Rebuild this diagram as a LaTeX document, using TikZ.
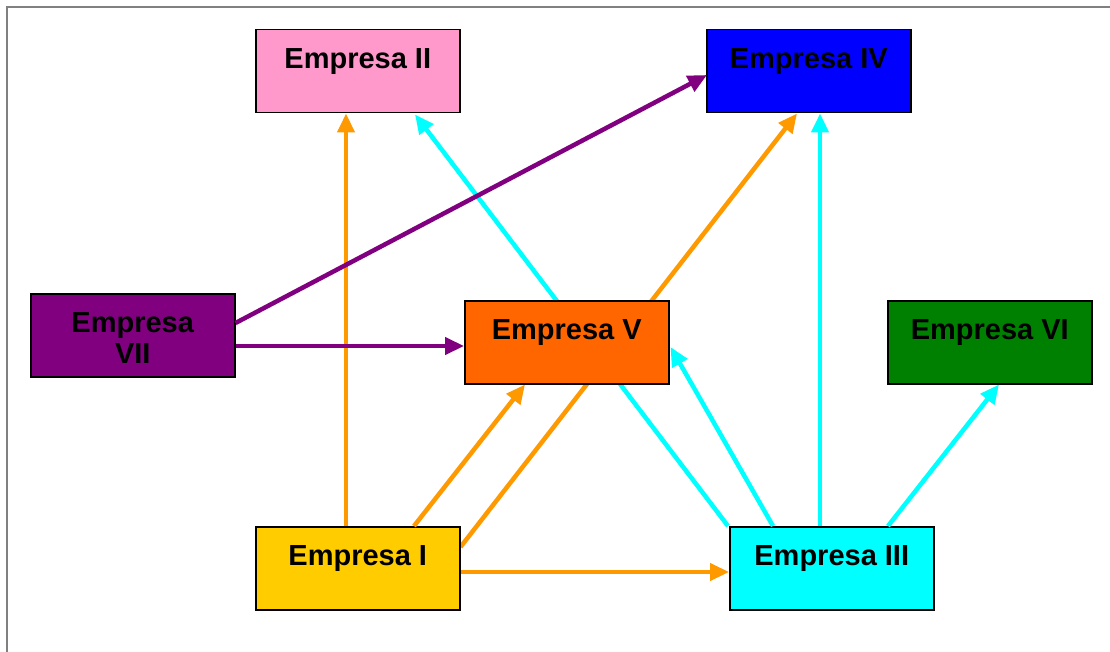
\documentclass[tikz,border=0pt]{standalone}
\usepackage{fontspec}
\setmainfont{Liberation Sans}
\usetikzlibrary{arrows.meta,calc,backgrounds}
\definecolor{pinkbox}{HTML}{FF99CC}
\definecolor{bluebox}{HTML}{0000FF}
\definecolor{purplebox}{HTML}{800080}
\definecolor{orangebox}{HTML}{FF6600}
\definecolor{greenbox}{HTML}{008000}
\definecolor{goldbox}{HTML}{FFCC00}
\definecolor{cyanbox}{HTML}{00FFFF}
\definecolor{orangeline}{HTML}{FF9900}
\definecolor{framegray}{HTML}{808080}
\tikzset{
  firm/.style={draw=black, line width=1.5pt, fill=#1, rectangle, inner sep=0pt,
    minimum width=204pt, minimum height=83pt, anchor=north west},
  firmtext/.style={font=\fontsize{29}{31}\selectfont\bfseries, align=center,
    inner sep=0pt, anchor=north},
  tip/.tip={Triangle[length=19pt,width=17pt]},
  link/.style={line width=4.5pt, color=#1, -tip},
}
\begin{document}
\begin{tikzpicture}[x=1pt,y=-1pt]
\useasboundingbox (0,0) rectangle (1110,652);
% outer frame (only left and top edges visible)
\draw[framegray, line width=1.5pt] (7,652) -- (7,7) -- (1110,7);

% companies
\node[firm=pinkbox]   (e2) at (255,29)  {};
\node[firm=bluebox]   (e4) at (706,29)  {};
\node[firm=purplebox] (e7) at (30,293)  {};
\node[firm=orangebox] (e5) at (464,300) {};
\node[firm=greenbox]  (e6) at (887,300) {};
\node[firm=goldbox]   (e1) at (255,526) {};
\node[firm=cyanbox]   (e3) at (729,526) {};

\node[firmtext] (t2) at ($(e2.north)+(0,19)$) {Empresa II};
\node[firmtext] (t4) at ($(e4.north)+(0,19)$) {Empresa IV};
\node[firmtext] (t7) at ($(e7.north)+(0,19)$) {Empresa\\VII};
\node[firmtext] (t5) at ($(e5.north)+(0,19)$) {Empresa V};
\node[firmtext] (t6) at ($(e6.north)+(0,19)$) {Empresa VI};
\node[firmtext] (t1) at ($(e1.north)+(0,19)$) {Empresa I};
\node[firmtext] (t3) at ($(e3.north)+(0,19)$) {Empresa III};

% links that run behind Empresa V
\begin{scope}[on background layer]
  \draw[link=orangeline] ($(e1.north east)+(0,21)$) -- ($(e4.south west)+(91,0)$);
  \draw[link=cyanbox] ($(e3.north west)+(-1,0)$) -- ($(e2.south west)+(160,1)$);
\end{scope}

% orange links from Empresa I
\draw[link=orangeline] ($(e1.north west)+(91,0)$) -- ($(e2.south west)+(91,0)$);
\draw[link=orangeline] ($(e1.north west)+(159,0)$) -- ($(e5.south west)+(61,0)$);
\draw[link=orangeline] ($(e1.north east)+(0,46)$) -- ($(e3.north west)+(0,46)$);

% cyan links from Empresa III
\draw[link=cyanbox] ($(e3.north west)+(44,0)$) -- ($(e5.north east)+(1,47)$);
\draw[link=cyanbox] ($(e3.north west)+(91,0)$) -- ($(e4.south west)+(114,0)$);
\draw[link=cyanbox] ($(e3.north west)+(159,0)$) -- ($(e6.south west)+(112,0)$);

% purple links from Empresa VII
\draw[link=purplebox] ($(e7.north east)+(0,30)$) -- ($(e4.north west)+(1,46)$);
\draw[link=purplebox] ($(e7.north east)+(0,53)$) -- ($(e5.north west)+(0,46)$);
\end{tikzpicture}
\end{document}
